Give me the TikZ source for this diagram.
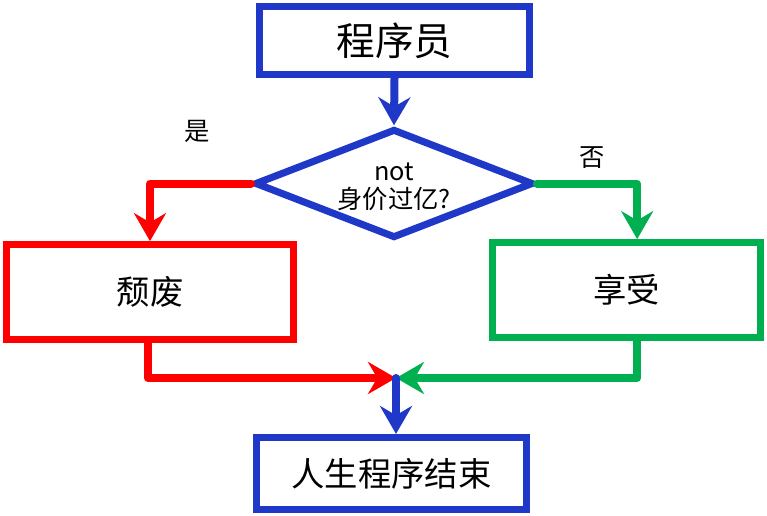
\documentclass[tikz,border=0pt]{standalone}
\usepackage{fontspec}
\setmainfont{Noto Sans CJK SC}
\usetikzlibrary{shapes.geometric,arrows.meta}

\definecolor{flowblue}{RGB}{32,56,200}
\definecolor{flowred}{RGB}{255,0,0}
\definecolor{flowgreen}{RGB}{0,176,80}

\tikzstyle{every node}=[font=\fontsize{19pt}{21pt}\selectfont]
\tikzstyle{box}=[line width=5.3pt, fill=white, inner sep=0pt]
\tikzstyle{flow}=[line width=6pt, line cap=round, line join=round, -{Stealth[length=21pt,width=24pt,inset=7pt]}]

\begin{document}
\begin{tikzpicture}[x=0.75pt, y=-0.75pt]
		            % Rozmer obrazku
		            \useasboundingbox (0,0) rectangle (767,515);

		            % Bloky
		            \node[box, draw=flowblue, minimum width=202.5pt, minimum height=51pt, font=\fontsize{29pt}{32pt}\selectfont] (prog) at (394.5,40.5) {程序员};
		            \node[box, draw=flowblue, diamond, aspect=2.55, minimum width=209pt, minimum height=82pt] (otazka) at (394,183.5) {};
		            \node[align=center, font=\fontsize{19pt}{21pt}\selectfont] (otazkatext) at (394,187) {not\\身价过亿?};
		            \node[box, draw=flowred, minimum width=215pt, minimum height=71pt, font=\fontsize{25pt}{28pt}\selectfont] (hui) at (150,292) {颓废};
		            \node[box, draw=flowgreen, minimum width=201pt, minimum height=71pt, font=\fontsize{25pt}{28pt}\selectfont] (xiang) at (626.5,290) {享受};
		            \node[box, draw=flowblue, minimum width=202.5pt, minimum height=54pt, font=\fontsize{25pt}{28pt}\selectfont] (konec) at (391.5,473.5) {人生程序结束};

		            % Popisky vetvi
		            \node (ano) at (197,131) {是};
		            \node (ne) at (592,158) {否};

		            % Spojnice
		            \coordinate (spoj) at (396,378);
		            \draw[flow, flowblue] (prog.south) -- (otazka.north);
		            \draw[flow, flowred] (otazka.west) -| (hui.north);
		            \draw[flow, flowgreen] (otazka.east) -| ([xshift=8pt]xiang.north);
		            \draw[flow, flowred] ([xshift=-1.5pt]hui.south) |- (spoj);
		            \draw[flow, flowgreen] ([xshift=8pt]xiang.south) |- (spoj);
		            \draw[flow, flowblue] (spoj) -- (spoj |- konec.north);
		        \end{tikzpicture}
\end{document}
